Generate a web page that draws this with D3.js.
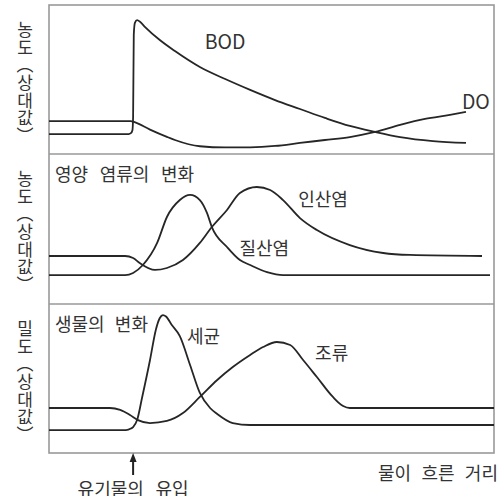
<!DOCTYPE html>
<html>
<head>
<meta charset="utf-8">
<script src="https://cdn.jsdelivr.net/npm/d3@7"></script>
<style>
  html, body { margin: 0; padding: 0; background: #fff; }
  svg { display: block; }
  text { font-family: "Noto Sans CJK KR", "Noto Sans", sans-serif; fill: #333; }
</style>
</head>
<body>
<svg id="chart" width="499" height="496"></svg>
<script>
// ---- data (x: distance 0-100, y: relative value 0-100 within each panel) ----
const bod = [[0,13.4],[17.9,13.4],[18.4,14.0],[18.75,16],[18.9,25],[19.05,80],[19.3,88],[19.8,89.9],[20.5,88.6],[21.6,85.2],[24.9,76.5],[28.3,69.1],[33.9,58.4],[39.6,50.3],[45.2,43.0],[50.8,36.2],[56.4,30.2],[62.0,24.2],[67.6,18.8],[73.3,14.8],[78.9,11.4],[86.3,8.7],[93.7,7.4]];
const dissolvedO = [[0,22.1],[18.4,22.1],[19.1,21.5],[22.7,16.4],[26.5,11.5],[28.3,9.4],[33.9,5.2],[39.6,4.4],[45.2,4.5],[50.8,5.4],[56.4,7.4],[62.0,9.4],[67.6,11.4],[73.3,14.8],[78.9,19.5],[84.5,23.5],[90.1,26.2],[93.7,28.2]];
const nitrate = [[0,19.3],[17.1,19.3],[18.9,20.7],[21.1,26.0],[24.3,40.7],[26.5,58.0],[29.4,69.3],[31.7,72.7],[33.9,69.3],[35.5,60.7],[36.6,51.3],[40.0,38.0],[42.9,29.3],[45.2,26.0],[49.0,21.3],[52.6,19.3],[99.1,19.3]];
const phosphate = [[0,32.0],[17.1,32.0],[18.9,30.7],[20.4,27.3],[23.8,22.7],[26.5,24.0],[30.1,29.3],[33.9,40.7],[36.6,51.3],[40.0,62.7],[42.9,74.0],[46.7,78.0],[49.7,76.0],[52.6,69.3],[56.4,57.3],[60.2,49.3],[67.6,39.3],[75.1,34.0],[81.1,32.7],[97.3,32.0]];
const bacteria = [[0,15.4],[17.3,15.4],[18.4,16.4],[18.9,17.4],[19.8,22.1],[20.9,36.9],[22.7,62.4],[24.0,82.6],[24.9,90.6],[25.6,92.6],[26.3,91.6],[27.6,85.9],[29.4,78.5],[31.7,59.1],[33.9,40.3],[36.2,30.2],[37.8,26.2],[41.3,20.1],[45.2,18.8],[100,18.8]];
const algae = [[0,30.2],[13.7,30.2],[16.0,28.9],[18.2,25.5],[20.0,22.1],[22.7,20.1],[26.5,21.5],[30.1,26.8],[33.9,37.6],[37.8,49.0],[41.3,57.7],[45.2,65.8],[48.1,71.1],[51.2,74.5],[54.2,72.5],[57.1,62.4],[60.2,51.0],[63.8,37.6],[66.1,31.5],[67.6,30.2],[100,30.2]];

const yTitles = ["농도（상대값）", "농도（상대값）", "밀도（상대값）"];
const panelTitles = ["", "영양 염류의 변화", "생물의 변화"];
const seriesNames = ["BOD", "DO", "인산염", "질산염", "세균", "조류"];
const xAxisTitle = "물이 흐른 거리";
const inflowLabel = "유기물의 유입";
const inflowX = 18.9;

// ---- layout (positions / sizes) ----
const left = 49, right = 494;
const panelTops = [5, 154, 304];
const panelBottoms = [154, 304, 453];
// label placement: panel, x (data units), y (data units), font size
const seriesLabelLayout = [
  [0, 35.0, 76.5, 19.5],
  [0, 92.8, 36.0, 19.5],
  [1, 56.0, 70.5, 18],
  [1, 42.8, 38.0, 18],
  [2, 31.0, 79.0, 18],
  [2, 59.8, 67.7, 18]
];
const panelTitleLengths = [0, 139, 93];

const svg = d3.select("#chart");
const x = d3.scaleLinear().domain([0, 100]).range([left, right]);
const ys = panelTops.map((t, i) => d3.scaleLinear().domain([0, 100]).range([panelBottoms[i], t]));

// widen spaces so that a multi-word text spans the target width
function fitWords(sel, target) {
  const node = sel.node();
  const natural = node.getComputedTextLength();
  const spaces = (sel.text().match(/ /g) || []).length;
  if (spaces > 0 && target > natural) sel.attr("word-spacing", (target - natural) / spaces);
  return sel;
}

// frame
svg.append("rect").attr("x", left).attr("y", panelTops[0])
  .attr("width", right - left).attr("height", panelBottoms[2] - panelTops[0])
  .attr("fill", "none").attr("stroke", "#999").attr("stroke-width", 1.6);
[154, 304].forEach(yy => svg.append("line").attr("x1", left).attr("x2", right)
  .attr("y1", yy).attr("y2", yy).attr("stroke", "#999").attr("stroke-width", 1.6));

// lines
const series = [[bod, 0], [dissolvedO, 0], [nitrate, 1], [phosphate, 1], [bacteria, 2], [algae, 2]];
series.forEach(([data, p]) => {
  const line = d3.line().x(d => x(d[0])).y(d => ys[p](d[1])).curve(d3.curveMonotoneX);
  svg.append("path").attr("d", line(data)).attr("fill", "none")
    .attr("stroke", "#262626").attr("stroke-width", 1.8).attr("stroke-linejoin", "round");
});

// y titles (vertical writing)
panelTops.forEach((t, i) => {
  svg.append("text").attr("x", 25).attr("y", t + 16)
    .style("writing-mode", "vertical-rl")
    .attr("letter-spacing", 0.7)
    .attr("font-size", 17).text(yTitles[i]);
});

// panel titles
panelTitles.forEach((s, i) => {
  if (!s) return;
  const t = svg.append("text").attr("x", 55).attr("y", panelTops[i] + 19)
    .attr("dominant-baseline", "central").attr("font-size", 18).text(s);
  fitWords(t, panelTitleLengths[i]);
});

// series labels
seriesNames.forEach((s, k) => {
  const [p, lx, ly, fs] = seriesLabelLayout[k];
  svg.append("text").attr("x", x(lx)).attr("y", ys[p](ly))
    .attr("dominant-baseline", "central").attr("font-size", fs).text(s);
});

// x axis title
fitWords(svg.append("text").attr("x", 498).attr("y", 472).attr("text-anchor", "end")
  .attr("dominant-baseline", "central").attr("font-size", 18).text(xAxisTitle), 120);

// inflow arrow
const ax = x(inflowX);
svg.append("line").attr("x1", ax).attr("x2", ax).attr("y1", 460).attr("y2", 475)
  .attr("stroke", "#222").attr("stroke-width", 2);
svg.append("path").attr("d", `M${ax},453 L${ax-3.5},462 L${ax+3.5},462 Z`).attr("fill", "#222");
fitWords(svg.append("text").attr("x", ax).attr("y", 488).attr("text-anchor", "middle")
  .attr("dominant-baseline", "central").attr("font-size", 18).text(inflowLabel), 111);
</script>
</body>
</html>
